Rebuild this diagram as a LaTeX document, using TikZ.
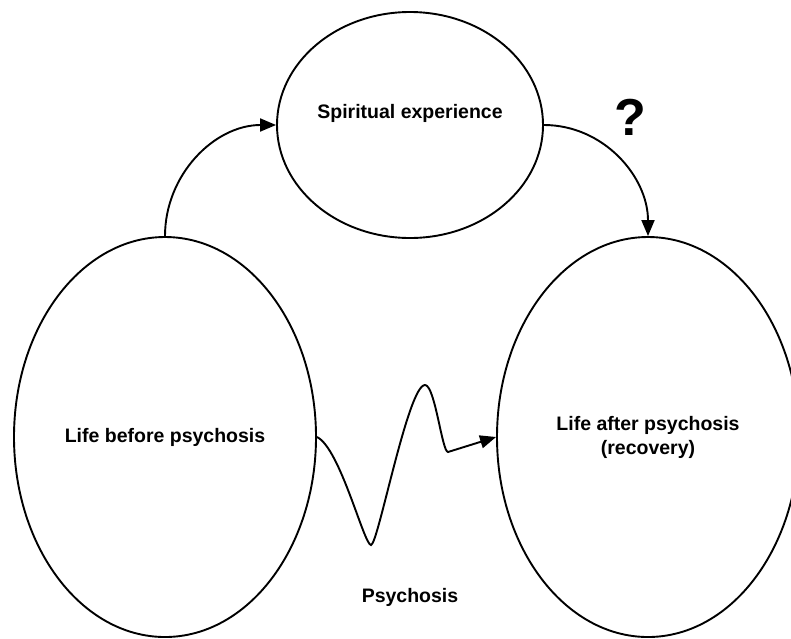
\documentclass[tikz,border=0pt]{standalone}
\usepackage{fontspec}
\setmainfont{Liberation Sans}
\usetikzlibrary{shapes.geometric,arrows.meta}
\tikzset{
  blob/.style={ellipse, draw=black, line width=1.9pt, inner sep=0pt, align=center,
    font=\bfseries\fontsize{19.5}{24}\selectfont},
  lbl/.style={font=\bfseries\fontsize{19.5}{24}\selectfont, align=center, inner sep=0pt},
  conn/.style={draw=black, line width=1.9pt, -{Triangle[length=16pt,width=13pt]}}
}
\begin{document}
\begin{tikzpicture}[x=1pt,y=-1pt]
\useasboundingbox (0,0) rectangle (791,638);
\node[blob, minimum width=302pt, minimum height=400pt] (before) at (165,437) {Life before psychosis};
\node[blob, minimum width=302pt, minimum height=400pt] (after) at (648,437) {Life after psychosis\\(recovery)};
\node[blob, minimum width=266pt, minimum height=226pt] (spirit) at (410,125) {};
\node[lbl] (spirittext) at (410,113) {Spiritual experience};
\node[lbl] (psy) at (410,597) {Psychosis};
\node[font=\bfseries\fontsize{52}{60}\selectfont, inner sep=0pt] (q) at (630,117) {?};
\draw[conn] (before.north) to[out=90,in=180] (spirit.west);
\draw[conn] (spirit.east) to[out=0,in=90] (after.north);
\draw[conn] (before.east) .. controls (340,448) and (364,545) .. (371,545)
  .. controls (378,545) and (408,385) .. (425,385)
  .. controls (435,385) and (442,452) .. (448,452) -- (after.west);
\end{tikzpicture}
\end{document}
